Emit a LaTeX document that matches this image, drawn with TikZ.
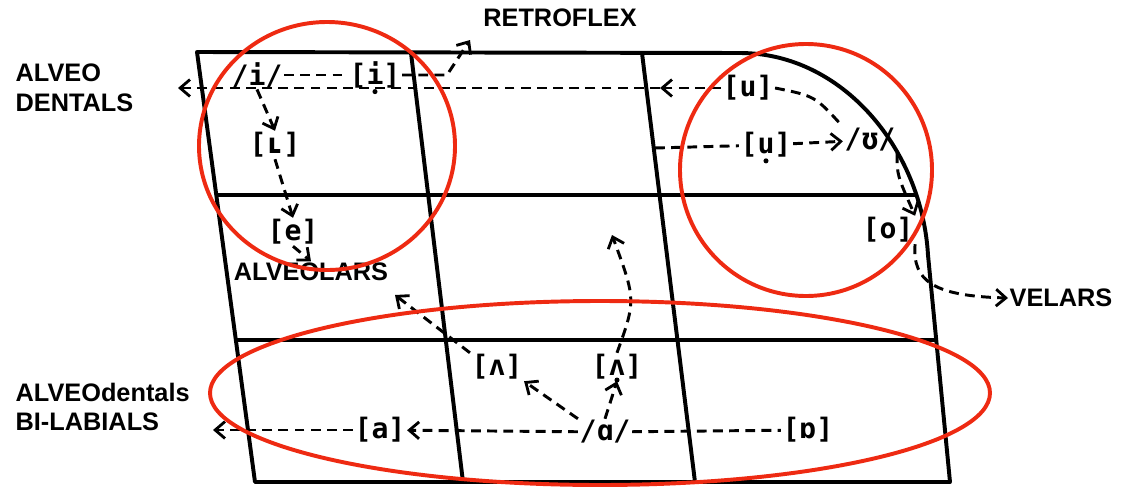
\documentclass[tikz,border=0pt]{standalone}
\usepackage{fontspec}
\setmainfont{Liberation Sans}
\newfontfamily\ipafont{DejaVu Sans Mono}
\usetikzlibrary{arrows.meta}
\definecolor{markred}{RGB}{238,42,18}

\begin{document}
\begin{tikzpicture}[x=0.025cm, y=-0.025cm, >={Straight Barb[length=7pt, width=12pt, line width=2pt]},
    lbl/.style={font=\fontsize{18}{21}\selectfont\bfseries, inner sep=1pt, align=left},
    snd/.style={font=\ipafont\bfseries\fontsize{20}{22}\selectfont, inner sep=1pt},
    frameline/.style={line width=2.8pt, line join=round},
    dsh/.style={line width=2.1pt, dash pattern=on 7pt off 4.5pt},
    ring/.style={draw=markred, line width=2.8pt}]
    \useasboundingbox (0,0) rectangle (1121,487);

    % chart frame and cells
    \begin{scope}
      \clip (197,52) -- (740,53) .. controls (843,53) and (922,150) .. (928,255)
            -- (950,482) -- (255,482) -- cycle;
      \draw[frameline] (150,195) -- (1000,195);
      \draw[frameline] (150,340) -- (1000,340);
      \draw[frameline] (411,53) -- (463,482);
      \draw[frameline] (642,53) -- (695,482);
    \end{scope}
    \draw[frameline] (197,52) -- (740,53) .. controls (843,53) and (922,150) .. (928,255)
          -- (950,482) -- (255,482) -- cycle;

    % place labels
    \node[lbl] (retro) at (560,18) {RETROFLEX};
    \node[lbl, anchor=west] (alvden) at (14,88) {ALVEO\\DENTALS};
    \node[lbl] (alveolars) at (311,272) {ALVEOLARS};
    \node[lbl, anchor=west] (velars) at (1008,298) {VELARS};
    \node[lbl, anchor=west] (bilab) at (14,407) {ALVEOdentals\\BI-LABIALS};

    % sounds
    \node[snd] (iph)  at (257,75)  {/i/};
    \node[snd] (idot) at (375,75)  {[i]};
    \node[snd] (lsc)  at (275,145) {[ʟ]};
    \node[snd] (e)    at (293,232) {[e]};
    \node[snd] (u)    at (748,88)  {[u]};
    \node[snd] (udot) at (766,145) {[u]};
    \node[snd] (uph)  at (870,140) {/ʊ/};
    \node[snd] (o)    at (888,230) {[o]};
    \node[snd] (lam1) at (497,367) {[ʌ]};
    \node[snd] (lam2) at (617,367) {[ʌ]};
    \node[snd] (aph)  at (605,432) {/ɑ/};
    \node[snd] (a)    at (380,430) {[a]};
    \node[snd] (ob)   at (808,430) {[ɒ]};

    % dots under the voiceless ones
    \fill ([yshift=-5pt]idot.base) circle [radius=1.8pt];
    \fill ([yshift=-5pt]udot.base) circle [radius=1.8pt];
    \fill ([yshift=-3pt]lam2.base) circle [radius=1.8pt];

    \coordinate (rbend) at (447,75);
    \coordinate (rtip) at (470,40);
    \coordinate (utip) at (660,88);
    \coordinate (dtip) at (178,88);
    \coordinate (colmark) at (655,148);
    \coordinate (atip) at (213,430);
    \coordinate (ltip) at (395,295);
    \coordinate (ctip) at (612,235);

    % front vowels
    \draw[dsh] (iph) -- (idot);
    \draw[dsh, ->] (idot.east) -- (rbend) -- (rtip);
    \draw[dsh, ->] (iph.south) -- (lsc.north);
    \draw[dsh, ->] (lsc.south) -- (e.north);
    \draw[dsh, ->] (e.south) -- (alveolars.north);

    % back vowels
    \draw[dsh, ->] (u.west) -- (utip);
    \draw[dsh, ->] (utip) -- (dtip);
    \draw[dsh] (u.east) .. controls (815,96) .. (uph.north west);
    \draw[dsh] (colmark) -- (udot);
    \draw[dsh, ->] (udot) -- (uph);
    \draw[dsh, ->] (uph.south east) .. controls (897,175) .. (o.north east);
    \draw[dsh, ->] (o.south east) .. controls (912,282) and (935,296) .. (velars.west);

    % open vowels
    \draw[dsh, ->] (aph) -- (a);
    \draw[dsh, ->] (a) -- (atip);
    \draw[dsh] (aph) -- (ob);
    \draw[dsh, ->] (aph.north west) -- (lam1.south east);
    \draw[dsh, ->] (aph.north) -- (lam2.south);
    \draw[dsh, ->] (lam1.north west) -- (ltip);
    \draw[dsh, ->] (lam2.north) .. controls (636,300) .. (ctip);

    % red marks
    \draw[ring] (327,146) ellipse [x radius=128, y radius=124];
    \draw[ring] (806,170) ellipse [x radius=126, y radius=126];
    \draw[ring] (600,393) ellipse [x radius=390, y radius=92];
  \end{tikzpicture}
\end{document}
